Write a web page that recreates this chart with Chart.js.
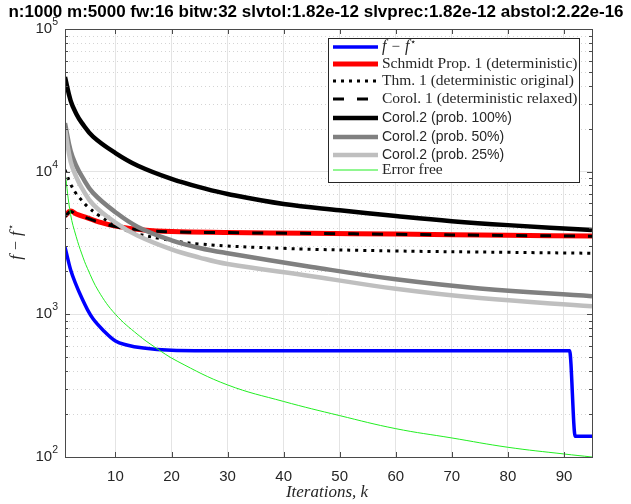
<!DOCTYPE html>
<html>
<head>
<meta charset="utf-8">
<script src="https://cdn.jsdelivr.net/npm/chart.js@4.4.0/dist/chart.umd.min.js"></script>
<style>
  html, body { margin: 0; padding: 0; background: #fff; }
  #wrap { width: 631px; height: 504px; }
</style>
</head>
<body>
<div id="wrap"><canvas id="c" width="631" height="504"></canvas></div>
<script>
// ---- data (iteration k, f - f*) ----
var X_TICKS = [10, 20, 30, 40, 50, 60, 70, 80, 90];
var Y_DECADES = [100, 1000, 10000, 100000];

var K_FDIFF = [1, 2, 3, 4, 5, 6, 8, 10, 12, 15, 20, 30, 91, 92, 95];
var F_FDIFF = [2960, 2050, 1600, 1300, 1080, 930, 760, 650, 610, 580, 560, 555, 555, 140, 140];

var K_SCHMIDT = [1, 2, 3, 5, 7, 10, 15, 20, 30, 45, 60, 80, 95];
var F_SCHMIDT = [4900, 5300, 5050, 4750, 4450, 4150, 3900, 3800, 3750, 3700, 3650, 3580, 3540];

var K_THM1 = [1, 2, 3, 4, 5, 7, 10, 13, 18, 25, 40, 60, 80, 95];
var F_THM1 = [10300, 8200, 7000, 6300, 5700, 4950, 4200, 3750, 3400, 3110, 2900, 2780, 2720, 2680];

var K_COROL1 = [1, 2, 3, 5, 7, 10, 15, 20, 30, 45, 60, 80, 95];
var F_COROL1 = [4850, 5250, 5000, 4720, 4430, 4130, 3890, 3790, 3740, 3690, 3640, 3570, 3530];

var K_C100 = [1, 2, 3, 4, 6, 10, 14, 20, 26, 30, 40, 50, 60, 70, 80, 95];
var F_C100 = [46000, 31500, 25500, 22000, 17600, 13500, 11000, 8900, 7600, 6970, 5930, 5360, 4890, 4500, 4220, 3900];

var K_C50 = [1, 2, 3, 4, 6, 10, 14, 20, 25, 30, 45, 60, 75, 95];
var F_C50 = [21900, 14000, 11000, 9300, 7100, 5200, 4100, 3300, 2920, 2680, 2150, 1760, 1520, 1340];

var K_C25 = [1, 2, 3, 4, 6, 10, 14, 20, 25, 30, 45, 60, 75, 95];
var F_C25 = [20000, 11800, 9200, 7700, 5900, 4400, 3550, 2850, 2500, 2250, 1850, 1510, 1300, 1140];

var K_FREE = [1, 2, 3, 4, 5, 7, 10, 14, 17, 21, 30, 40, 50, 60, 70, 80, 90, 95];
var F_FREE = [10000, 5000, 3500, 2650, 2100, 1450, 1000, 720, 590, 470, 320, 245, 195, 158, 136, 117, 105, 100];

var SERIF = '"Liberation Serif", "DejaVu Serif", serif';
var SANS = '"Liberation Sans", Arial, Helvetica, sans-serif';

function pts(ks, fs) { return ks.map(function (k, i) { return { x: k, y: fs[i] }; }); }

var SERIES = [
  { key: "fdiff",   data: pts(K_FDIFF, F_FDIFF),     color: "#0000ff", width: 3.5, dash: [],       mono: true },
  { key: "schmidt", data: pts(K_SCHMIDT, F_SCHMIDT), color: "#ff0000", width: 5,   dash: [] },
  { key: "thm1",    data: pts(K_THM1, F_THM1),       color: "#000000", width: 3,   dash: [3, 5] },
  { key: "corol1",  data: pts(K_COROL1, F_COROL1),   color: "#000000", width: 3,   dash: [11, 13] },
  { key: "c100",    data: pts(K_C100, F_C100),       color: "#000000", width: 4.5, dash: [] },
  { key: "c50",     data: pts(K_C50, F_C50),         color: "#808080", width: 4.5, dash: [] },
  { key: "c25",     data: pts(K_C25, F_C25),         color: "#bfbfbf", width: 4.5, dash: [] },
  { key: "free",    data: pts(K_FREE, F_FREE),       color: "#22ee22", width: 1,   dash: [] }
];

// legend rows: text runs [font, text, raise, extra gap after]
var LEGEND = [
  [["italic 16px " + SERIF, "f", 0, 5], ["15px " + SERIF, "\u2212", 0, 5], ["italic 16px " + SERIF, "f", 0, 1], ["10px " + SERIF, "\u22c6", 5, 0]],
  [["15.5px " + SERIF, "Schmidt Prop. 1 (deterministic)", 0, 0]],
  [["15.5px " + SERIF, "Thm. 1 (deterministic original)", 0, 0]],
  [["15.5px " + SERIF, "Corol. 1 (deterministic relaxed)", 0, 0]],
  [["14px " + SANS, "Corol.2 (prob. 100%)", 0, 0]],
  [["14px " + SANS, "Corol.2 (prob. 50%)", 0, 0]],
  [["14px " + SANS, "Corol.2 (prob. 25%)", 0, 0]],
  [["15.5px " + SERIF, "Error free", 0, 0]]
];
var LEGEND_ROWS_Y = [47, 64, 81, 99, 118, 137, 155, 170];

function isMajor(v) { return Y_DECADES.indexOf(v) >= 0; }

function runsWidth(ctx, runs) {
  var w = 0;
  runs.forEach(function (r) { ctx.font = r[0]; w += ctx.measureText(r[1]).width + (r[3] || 0); });
  return w;
}

function drawRuns(ctx, runs, x, y) {
  runs.forEach(function (r) {
    ctx.font = r[0];
    ctx.fillText(r[1], x, y - r[2]);
    x += ctx.measureText(r[1]).width + (r[3] || 0);
  });
  return x;
}

var decorPlugin = {
  id: "decor",
  beforeDatasetsDraw: function (chart) {
    var ctx = chart.ctx, a = chart.chartArea, ys = chart.scales.y;
    ctx.save();
    ctx.strokeStyle = "#d4d4d4";
    ctx.lineWidth = 1;
    ctx.setLineDash([1, 3]);
    ys.ticks.forEach(function (t) {
      if (isMajor(t.value)) return;
      var py = Math.round(ys.getPixelForValue(t.value)) + 0.5;
      ctx.beginPath(); ctx.moveTo(a.left, py); ctx.lineTo(a.right, py); ctx.stroke();
    });
    ctx.restore();
  },
  afterDraw: function (chart) {
    var ctx = chart.ctx, a = chart.chartArea, xs = chart.scales.x, ys = chart.scales.y;
    ctx.save();

    // axes box
    ctx.strokeStyle = "#4a4a4a";
    ctx.lineWidth = 1;
    ctx.setLineDash([]);
    ctx.strokeRect(Math.round(a.left) + 0.5, Math.round(a.top) + 0.5, Math.round(a.right - a.left), Math.round(a.bottom - a.top));

    // inward ticks
    ctx.beginPath();
    X_TICKS.forEach(function (v) {
      var px = Math.round(xs.getPixelForValue(v)) + 0.5;
      ctx.moveTo(px, a.bottom); ctx.lineTo(px, a.bottom - 5);
      ctx.moveTo(px, a.top); ctx.lineTo(px, a.top + 5);
    });
    ys.ticks.forEach(function (t) {
      var len = isMajor(t.value) ? 5 : 3;
      var py = Math.round(ys.getPixelForValue(t.value)) + 0.5;
      ctx.moveTo(a.left, py); ctx.lineTo(a.left + len, py);
      ctx.moveTo(a.right, py); ctx.lineTo(a.right - len, py);
    });
    ctx.stroke();

    // tick labels
    ctx.fillStyle = "#262626";
    ctx.textBaseline = "middle";
    ctx.textAlign = "center";
    ctx.font = "15px " + SANS;
    X_TICKS.forEach(function (v) { ctx.fillText(String(v), xs.getPixelForValue(v), 477); });

    ctx.textAlign = "left";
    Y_DECADES.forEach(function (d) {
      var py = ys.getPixelForValue(d);
      var ex = String(Math.round(Math.log10(d)));
      ctx.font = "10.5px " + SANS;
      var ew = ctx.measureText(ex).width;
      ctx.font = "15px " + SANS;
      var bw = ctx.measureText("10").width;
      var x0 = 58 - ew - bw;
      ctx.fillText("10", x0, py);
      ctx.font = "10.5px " + SANS;
      ctx.fillText(ex, x0 + bw, py - 7);
    });

    // title
    ctx.textAlign = "center";
    ctx.font = "bold 17px " + SANS;
    ctx.fillStyle = "#000";
    ctx.fillText("n:1000 m:5000 fw:16 bitw:32 slvtol:1.82e-12 slvprec:1.82e-12 abstol:2.22e-16", 316, 12);

    // x axis title
    ctx.fillStyle = "#262626";
    ctx.font = "italic 17px " + SERIF;
    ctx.fillText("Iterations, k", 327, 493);

    // y axis title
    ctx.save();
    ctx.translate(17, 242);
    ctx.rotate(-Math.PI / 2);
    ctx.textAlign = "left";
    var yt = [["italic 17px " + SERIF, "f", 0, 5], ["16px " + SERIF, "\u2212", 0, 5], ["italic 17px " + SERIF, "f", 0, 1], ["10px " + SERIF, "\u22c6", 6, 0]];
    drawRuns(ctx, yt, -runsWidth(ctx, yt) / 2, 0);
    ctx.restore();

    // legend
    var lx = 328, ly = 38, lw = 251, lh = 144;
    ctx.fillStyle = "#fff";
    ctx.fillRect(lx, ly, lw, lh);
    ctx.strokeStyle = "#262626";
    ctx.lineWidth = 1;
    ctx.strokeRect(lx + 0.5, ly + 0.5, lw, lh);
    chart.data.datasets.forEach(function (ds, i) {
      var ry = LEGEND_ROWS_Y[i];
      ctx.save();
      ctx.strokeStyle = ds.borderColor;
      ctx.lineWidth = ds.borderWidth;
      ctx.setLineDash(ds.borderDash || []);
      ctx.lineCap = "butt";
      ctx.beginPath(); ctx.moveTo(333, ry); ctx.lineTo(378, ry); ctx.stroke();
      ctx.restore();
      ctx.fillStyle = "#262626";
      ctx.textAlign = "left";
      ctx.textBaseline = "middle";
      drawRuns(ctx, LEGEND[i], 382, ry);
    });

    ctx.restore();
  }
};

new Chart(document.getElementById("c"), {
  type: "line",
  data: {
    datasets: SERIES.map(function (s, i) {
      return {
        label: s.key,
        data: s.data,
        borderColor: s.color,
        backgroundColor: s.color,
        borderWidth: s.width,
        borderDash: s.dash,
        pointRadius: 0,
        fill: false,
        cubicInterpolationMode: s.mono ? "monotone" : "default",
        tension: 0.4,
        clip: 0,
        order: SERIES.length - i
      };
    })
  },
  options: {
    responsive: false,
    animation: false,
    devicePixelRatio: 1,
    layout: { padding: { left: 65, right: 39, top: 29, bottom: 47 } },
    plugins: { legend: { display: false }, tooltip: { enabled: false }, title: { display: false } },
    scales: {
      x: {
        type: "linear", min: 1, max: 95,
        afterBuildTicks: function (s) { s.ticks = X_TICKS.map(function (v) { return { value: v }; }); },
        afterFit: function (s) { s.height = 0; },
        ticks: { display: false },
        grid: { color: "#e4e4e4", drawTicks: false },
        border: { display: false }
      },
      y: {
        type: "logarithmic", min: 100, max: 100000,
        afterBuildTicks: function (s) {
          var t = [];
          Y_DECADES.forEach(function (d, i) {
            t.push({ value: d, major: true });
            if (i < Y_DECADES.length - 1) for (var m = 2; m <= 9; m++) t.push({ value: d * m });
          });
          s.ticks = t;
        },
        afterFit: function (s) { s.width = 0; },
        ticks: { display: false },
        grid: {
          color: function (c) { return c.tick && isMajor(c.tick.value) ? "#e4e4e4" : "rgba(0,0,0,0)"; },
          drawTicks: false
        },
        border: { display: false }
      }
    }
  },
  plugins: [decorPlugin]
});
</script>
</body>
</html>
